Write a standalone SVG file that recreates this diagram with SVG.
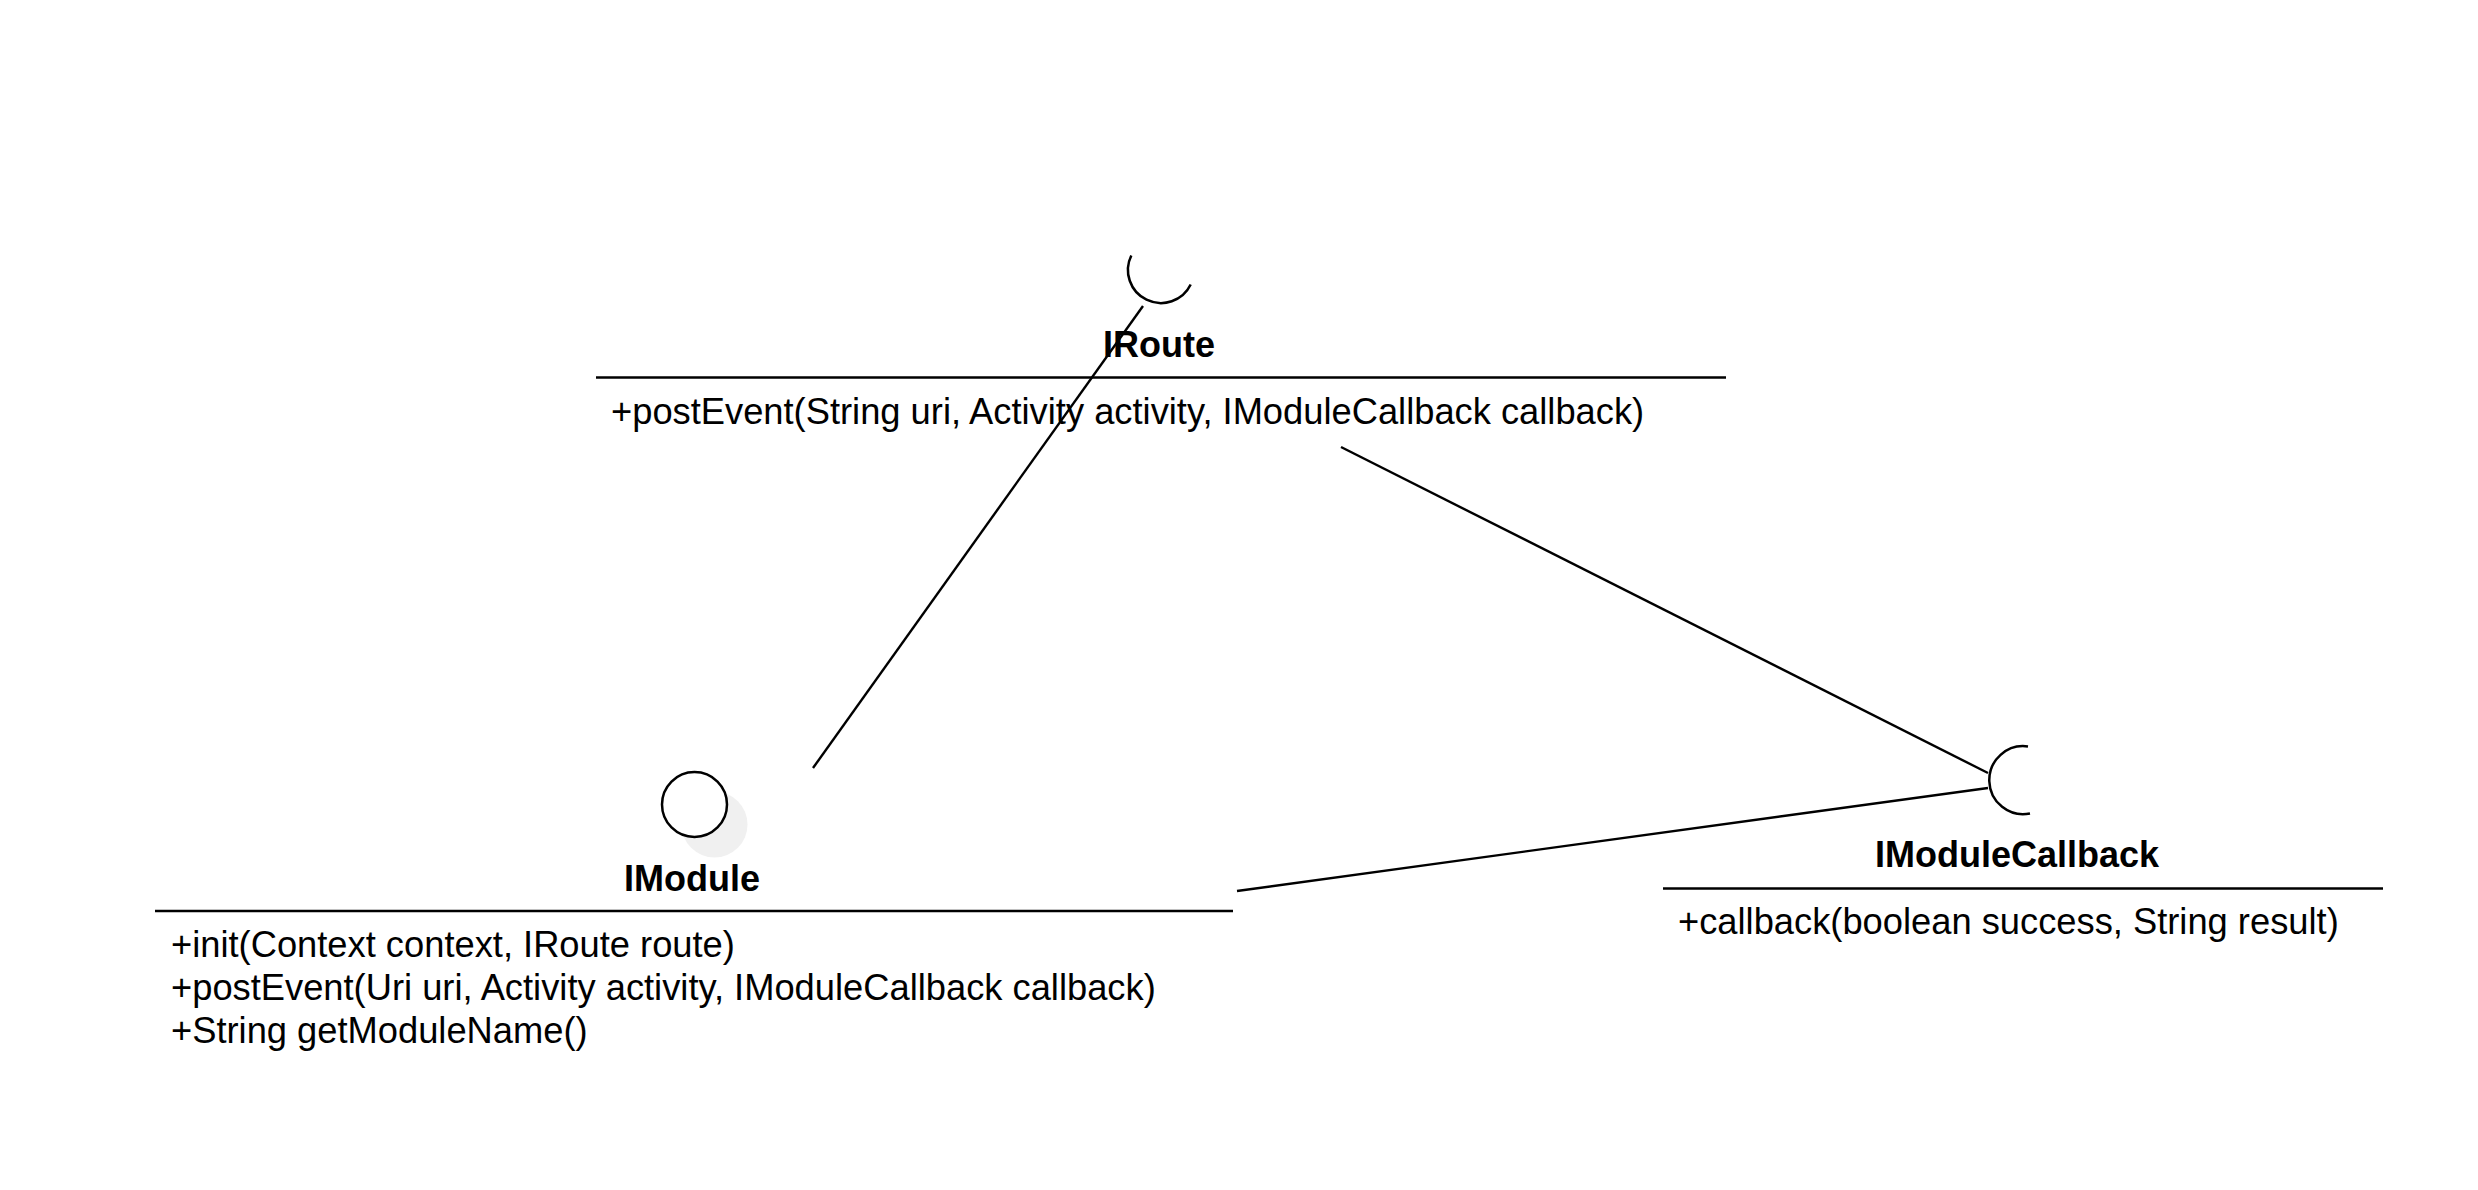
<svg xmlns="http://www.w3.org/2000/svg" width="2478" height="1190" viewBox="0 0 2478 1190">
<style>
.bg{fill:#ffffff}
.sep{stroke:#000;stroke-width:2.5;fill:none}
.conn{stroke:#000;stroke-width:2.4;fill:none}
.ball{stroke:#000;stroke-width:2.5;fill:#ffffff}
.socket{stroke:#000;stroke-width:2.5;fill:none}
.shadow{fill:#f0f0f0;stroke:none}
.title{font-family:"Liberation Sans",Arial,sans-serif;font-size:36px;font-weight:bold;fill:#000;text-anchor:middle}
.member{font-family:"Liberation Sans",Arial,sans-serif;font-size:36.3px;fill:#000}
</style>
<rect class="bg" x="0" y="0" width="2478" height="1190"/>
<g id="IRoute">
<path class="socket" d="M 1131.3 255.5 A 33 33 0 0 0 1190.7 284.5"/>
<text class="title" x="1159" y="357">IRoute</text>
<line class="sep" x1="596" y1="377.5" x2="1726" y2="377.5"/>
<text class="member" x="611" y="424">+postEvent(String uri, Activity activity, IModuleCallback callback)</text>
</g>
<g id="IModule">
<circle class="shadow" cx="714.5" cy="824.5" r="33"/>
<circle class="ball" cx="694.5" cy="804.5" r="32.5"/>
<text class="title" x="692" y="891">IModule</text>
<line class="sep" x1="155" y1="911" x2="1233" y2="911"/>
<text class="member" x="171" y="957">+init(Context context, IRoute route)</text>
<text class="member" x="171" y="1000">+postEvent(Uri uri, Activity activity, IModuleCallback callback)</text>
<text class="member" x="171" y="1043">+String getModuleName()</text>
</g>
<g id="IModuleCallback">
<path class="socket" d="M 2028 746.5 A 34 34 0 1 0 2030 813.5"/>
<text class="title" x="2017" y="867">IModuleCallback</text>
<line class="sep" x1="1663" y1="888.5" x2="2383" y2="888.5"/>
<text class="member" x="1678" y="934">+callback(boolean success, String result)</text>
</g>
<g id="connectors">
<line class="conn" x1="1143" y1="306" x2="813" y2="768"/>
<line class="conn" x1="1341" y1="447" x2="1988" y2="773"/>
<line class="conn" x1="1237" y1="891" x2="1988" y2="788"/>
</g>
</svg>
